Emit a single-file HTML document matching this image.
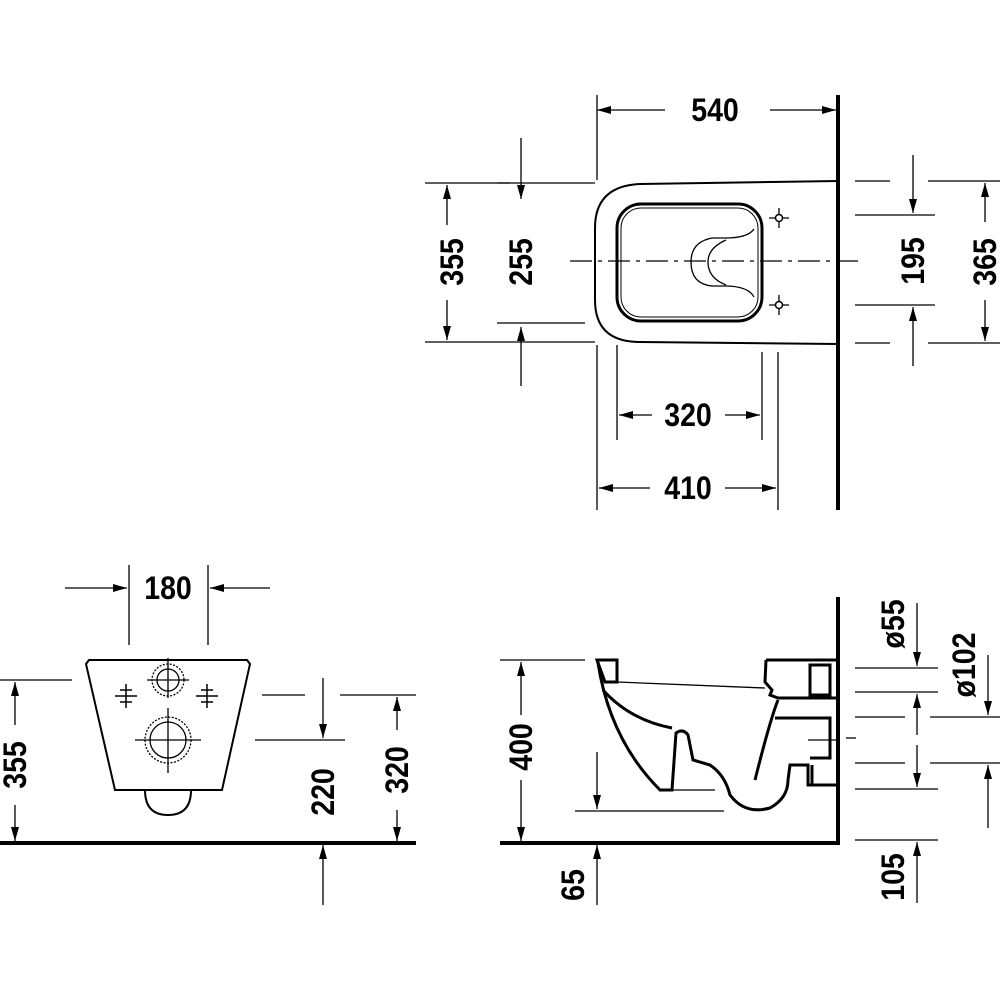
<!DOCTYPE html>
<html><head><meta charset="utf-8"><style>html,body{margin:0;padding:0;background:#fff}svg{display:block}text{font-family:"Liberation Sans",sans-serif;font-weight:bold;font-size:31px;fill:#000}</style></head><body>
<svg width="1000" height="1000" viewBox="0 0 1000 1000" xmlns="http://www.w3.org/2000/svg">
<defs>
<marker id="a" viewBox="0 0 14 10" refX="14" refY="5" markerWidth="14" markerHeight="10" markerUnits="userSpaceOnUse" orient="auto-start-reverse"><path d="M0,1 L14,5 L0,9 Z" fill="#000"/></marker>
</defs>
<g stroke="#000" stroke-width="1.3" fill="none">
<!-- TOP VIEW -->
<line x1="838" y1="95" x2="838" y2="510" stroke-width="4"/>
<line x1="597" y1="95" x2="597" y2="180"/>
<line x1="597" y1="110" x2="665" y2="110" marker-start="url(#a)"/>
<line x1="770" y1="110" x2="836" y2="110" marker-end="url(#a)"/>
<path d="M838,181 L640,184 Q595,186 595,228 L595,300 Q595,342 640,342 L838,344" stroke-width="2"/>
<rect x="617" y="204" width="145" height="117" rx="24" stroke-width="3"/>
<rect x="621" y="208" width="137" height="109" rx="20" stroke-width="1"/>
<path d="M754,229 Q748,238 725,238 L712,238 Q691,242 691,262 Q691,284 712,286 L725,286 Q748,286 754,297"/>
<path d="M726,240 Q708,248 708,262 Q708,278 726,285"/>
<line x1="570" y1="261" x2="862" y2="261" stroke-dasharray="22,6,4,6"/>
<circle cx="779" cy="218" r="3.5" stroke-width="1.5"/><path d="M769,218h6M783,218h6M779,208v6M779,222v6"/>
<circle cx="779" cy="305" r="3.5" stroke-width="1.5"/><path d="M769,305h6M783,305h6M779,295v6M779,309v6"/>
<line x1="425" y1="183" x2="510" y2="183"/><line x1="425" y1="342" x2="595" y2="342"/>
<line x1="447" y1="185" x2="447" y2="225" marker-start="url(#a)"/><line x1="447" y1="300" x2="447" y2="340" marker-end="url(#a)"/>
<line x1="497" y1="183" x2="595" y2="183"/><line x1="497" y1="323" x2="585" y2="323"/>
<line x1="521" y1="138" x2="521" y2="199" marker-end="url(#a)"/><line x1="521" y1="386" x2="521" y2="327" marker-end="url(#a)"/>
<line x1="855" y1="181" x2="890" y2="181"/><line x1="928" y1="181" x2="1000" y2="181"/>
<line x1="855" y1="343" x2="890" y2="343"/><line x1="928" y1="343" x2="1000" y2="343"/>
<line x1="855" y1="215" x2="935" y2="215"/><line x1="855" y1="305" x2="935" y2="305"/>
<line x1="913" y1="155" x2="913" y2="213" marker-end="url(#a)"/><line x1="913" y1="366" x2="913" y2="307" marker-end="url(#a)"/>
<line x1="985" y1="183" x2="985" y2="222" marker-start="url(#a)"/><line x1="985" y1="300" x2="985" y2="341" marker-end="url(#a)"/>
<line x1="617" y1="345" x2="617" y2="440"/><line x1="762" y1="352" x2="762" y2="440"/>
<line x1="597" y1="345" x2="597" y2="510"/><line x1="778" y1="352" x2="778" y2="510"/>
<line x1="619" y1="415" x2="652" y2="415" marker-start="url(#a)"/><line x1="725" y1="415" x2="760" y2="415" marker-end="url(#a)"/>
<line x1="599" y1="488" x2="650" y2="488" marker-start="url(#a)"/><line x1="725" y1="488" x2="776" y2="488" marker-end="url(#a)"/>
<!-- FRONT VIEW -->
<line x1="0" y1="843" x2="416" y2="843" stroke-width="4"/>
<path d="M89,660 L247,660 L250,664 L222,790 L115,790 L86,664 Z" stroke-width="2"/>
<path d="M145,790 Q145,815 168,815 Q191,815 191,790" stroke-width="2"/>
<circle cx="168" cy="680" r="16" stroke-dasharray="2,1.5"/><circle cx="168" cy="680" r="11"/>
<path d="M147,680h42M168,658v40"/>
<circle cx="168" cy="740" r="23" stroke-dasharray="2,1.5"/><circle cx="168" cy="740" r="18"/>
<path d="M135,740h66M168,708v65"/>
<path d="M115,696h22M126,684v24M120,690h12M120,702h12" stroke-width="1.5"/>
<path d="M196,696h22M207,684v24M201,690h12M201,702h12" stroke-width="1.5"/>
<line x1="129" y1="565" x2="129" y2="645"/><line x1="208" y1="565" x2="208" y2="645"/>
<line x1="65" y1="588" x2="127" y2="588" marker-end="url(#a)"/><line x1="270" y1="588" x2="210" y2="588" marker-end="url(#a)"/>
<line x1="0" y1="680" x2="72" y2="680"/>
<line x1="15" y1="682" x2="15" y2="725" marker-start="url(#a)"/><line x1="15" y1="805" x2="15" y2="841" marker-end="url(#a)"/>
<line x1="262" y1="695" x2="305" y2="695"/><line x1="340" y1="695" x2="416" y2="695"/>
<line x1="255" y1="740" x2="345" y2="740"/>
<line x1="323" y1="678" x2="323" y2="738" marker-end="url(#a)"/><line x1="323" y1="905" x2="323" y2="845" marker-end="url(#a)"/>
<line x1="397" y1="697" x2="397" y2="730" marker-start="url(#a)"/><line x1="397" y1="810" x2="397" y2="841" marker-end="url(#a)"/>
<!-- SIDE VIEW -->
<line x1="500" y1="843" x2="840" y2="843" stroke-width="4"/>
<line x1="838" y1="597" x2="838" y2="845" stroke-width="4"/>
<line x1="500" y1="660" x2="585" y2="660"/>
<line x1="521" y1="662" x2="521" y2="715" marker-start="url(#a)"/><line x1="521" y1="780" x2="521" y2="841" marker-end="url(#a)"/>
<line x1="575" y1="811" x2="724" y2="811"/>
<line x1="597" y1="752" x2="597" y2="809" marker-end="url(#a)"/><line x1="597" y1="905" x2="597" y2="845" marker-end="url(#a)"/>
<g stroke-width="3">
<path d="M597,660 L617,660 L617,682 L605,682 Z"/>
<path d="M598,663 Q610,740 660,790 L672,790 L676,733 Q683,728 688,735 L693,760 L710,765 Q725,775 730,795 Q745,815 770,808 Q788,798 788,780 L790,765 L808,765 L808,785 L836,785"/>
<path d="M603,690 Q630,720 672,728"/>
<path d="M766,660 L765,682 L772,690 L770,695 L778,698 L836,698"/>
<path d="M766,660 L836,660 M810,665 L830,665 L830,695 L810,695 Z"/>
<path d="M778,700 Q770,720 755,780"/>
<path d="M775,718 L830,718 L830,758 L810,758"/>
<path d="M808,765 L808,785 M812,765 L812,785"/>
</g>
<line x1="617" y1="682" x2="765" y2="688"/>
<line x1="660" y1="790" x2="715" y2="790"/>
<line x1="808" y1="740" x2="838" y2="740"/>
<line x1="846" y1="738" x2="856" y2="738"/>
<line x1="855" y1="668" x2="938" y2="668"/><line x1="855" y1="692" x2="938" y2="692"/>
<line x1="855" y1="717" x2="905" y2="717"/><line x1="930" y1="717" x2="1000" y2="717"/>
<line x1="855" y1="763" x2="905" y2="763"/><line x1="930" y1="763" x2="1000" y2="763"/>
<line x1="855" y1="789" x2="938" y2="789"/><line x1="855" y1="840" x2="938" y2="840"/>
<line x1="917" y1="603" x2="917" y2="666" marker-end="url(#a)"/>
<line x1="917" y1="694" x2="917" y2="735" marker-start="url(#a)"/><line x1="917" y1="745" x2="917" y2="787" marker-end="url(#a)"/>
<line x1="917" y1="903" x2="917" y2="842" marker-end="url(#a)"/>
<line x1="988" y1="655" x2="988" y2="715" marker-end="url(#a)"/><line x1="988" y1="828" x2="988" y2="765" marker-end="url(#a)"/>
</g>
<g text-anchor="middle">
<text transform="translate(715,121) scale(0.92,1.05)">540</text>
<text transform="translate(688,426) scale(0.92,1.05)">320</text>
<text transform="translate(688,499) scale(0.92,1.05)">410</text>
<text transform="translate(168,599) scale(0.92,1.05)">180</text>
<text transform="translate(463,262) rotate(-90) scale(0.92,1.05)">355</text>
<text transform="translate(532,262) rotate(-90) scale(0.92,1.05)">255</text>
<text transform="translate(924,261) rotate(-90) scale(0.92,1.05)">195</text>
<text transform="translate(996,262) rotate(-90) scale(0.92,1.05)">365</text>
<text transform="translate(26,765) rotate(-90) scale(0.92,1.05)">355</text>
<text transform="translate(334,792) rotate(-90) scale(0.92,1.05)">220</text>
<text transform="translate(408,770) rotate(-90) scale(0.92,1.05)">320</text>
<text transform="translate(532,747) rotate(-90) scale(0.92,1.05)">400</text>
<text transform="translate(584,885) rotate(-90) scale(0.92,1.05)">65</text>
<text transform="translate(904,624) rotate(-90) scale(0.92,1.05)">ø55</text>
<text transform="translate(975,665) rotate(-90) scale(0.92,1.05)">ø102</text>
<text transform="translate(904,877) rotate(-90) scale(0.92,1.05)">105</text>
</g>
</svg>
</body></html>
